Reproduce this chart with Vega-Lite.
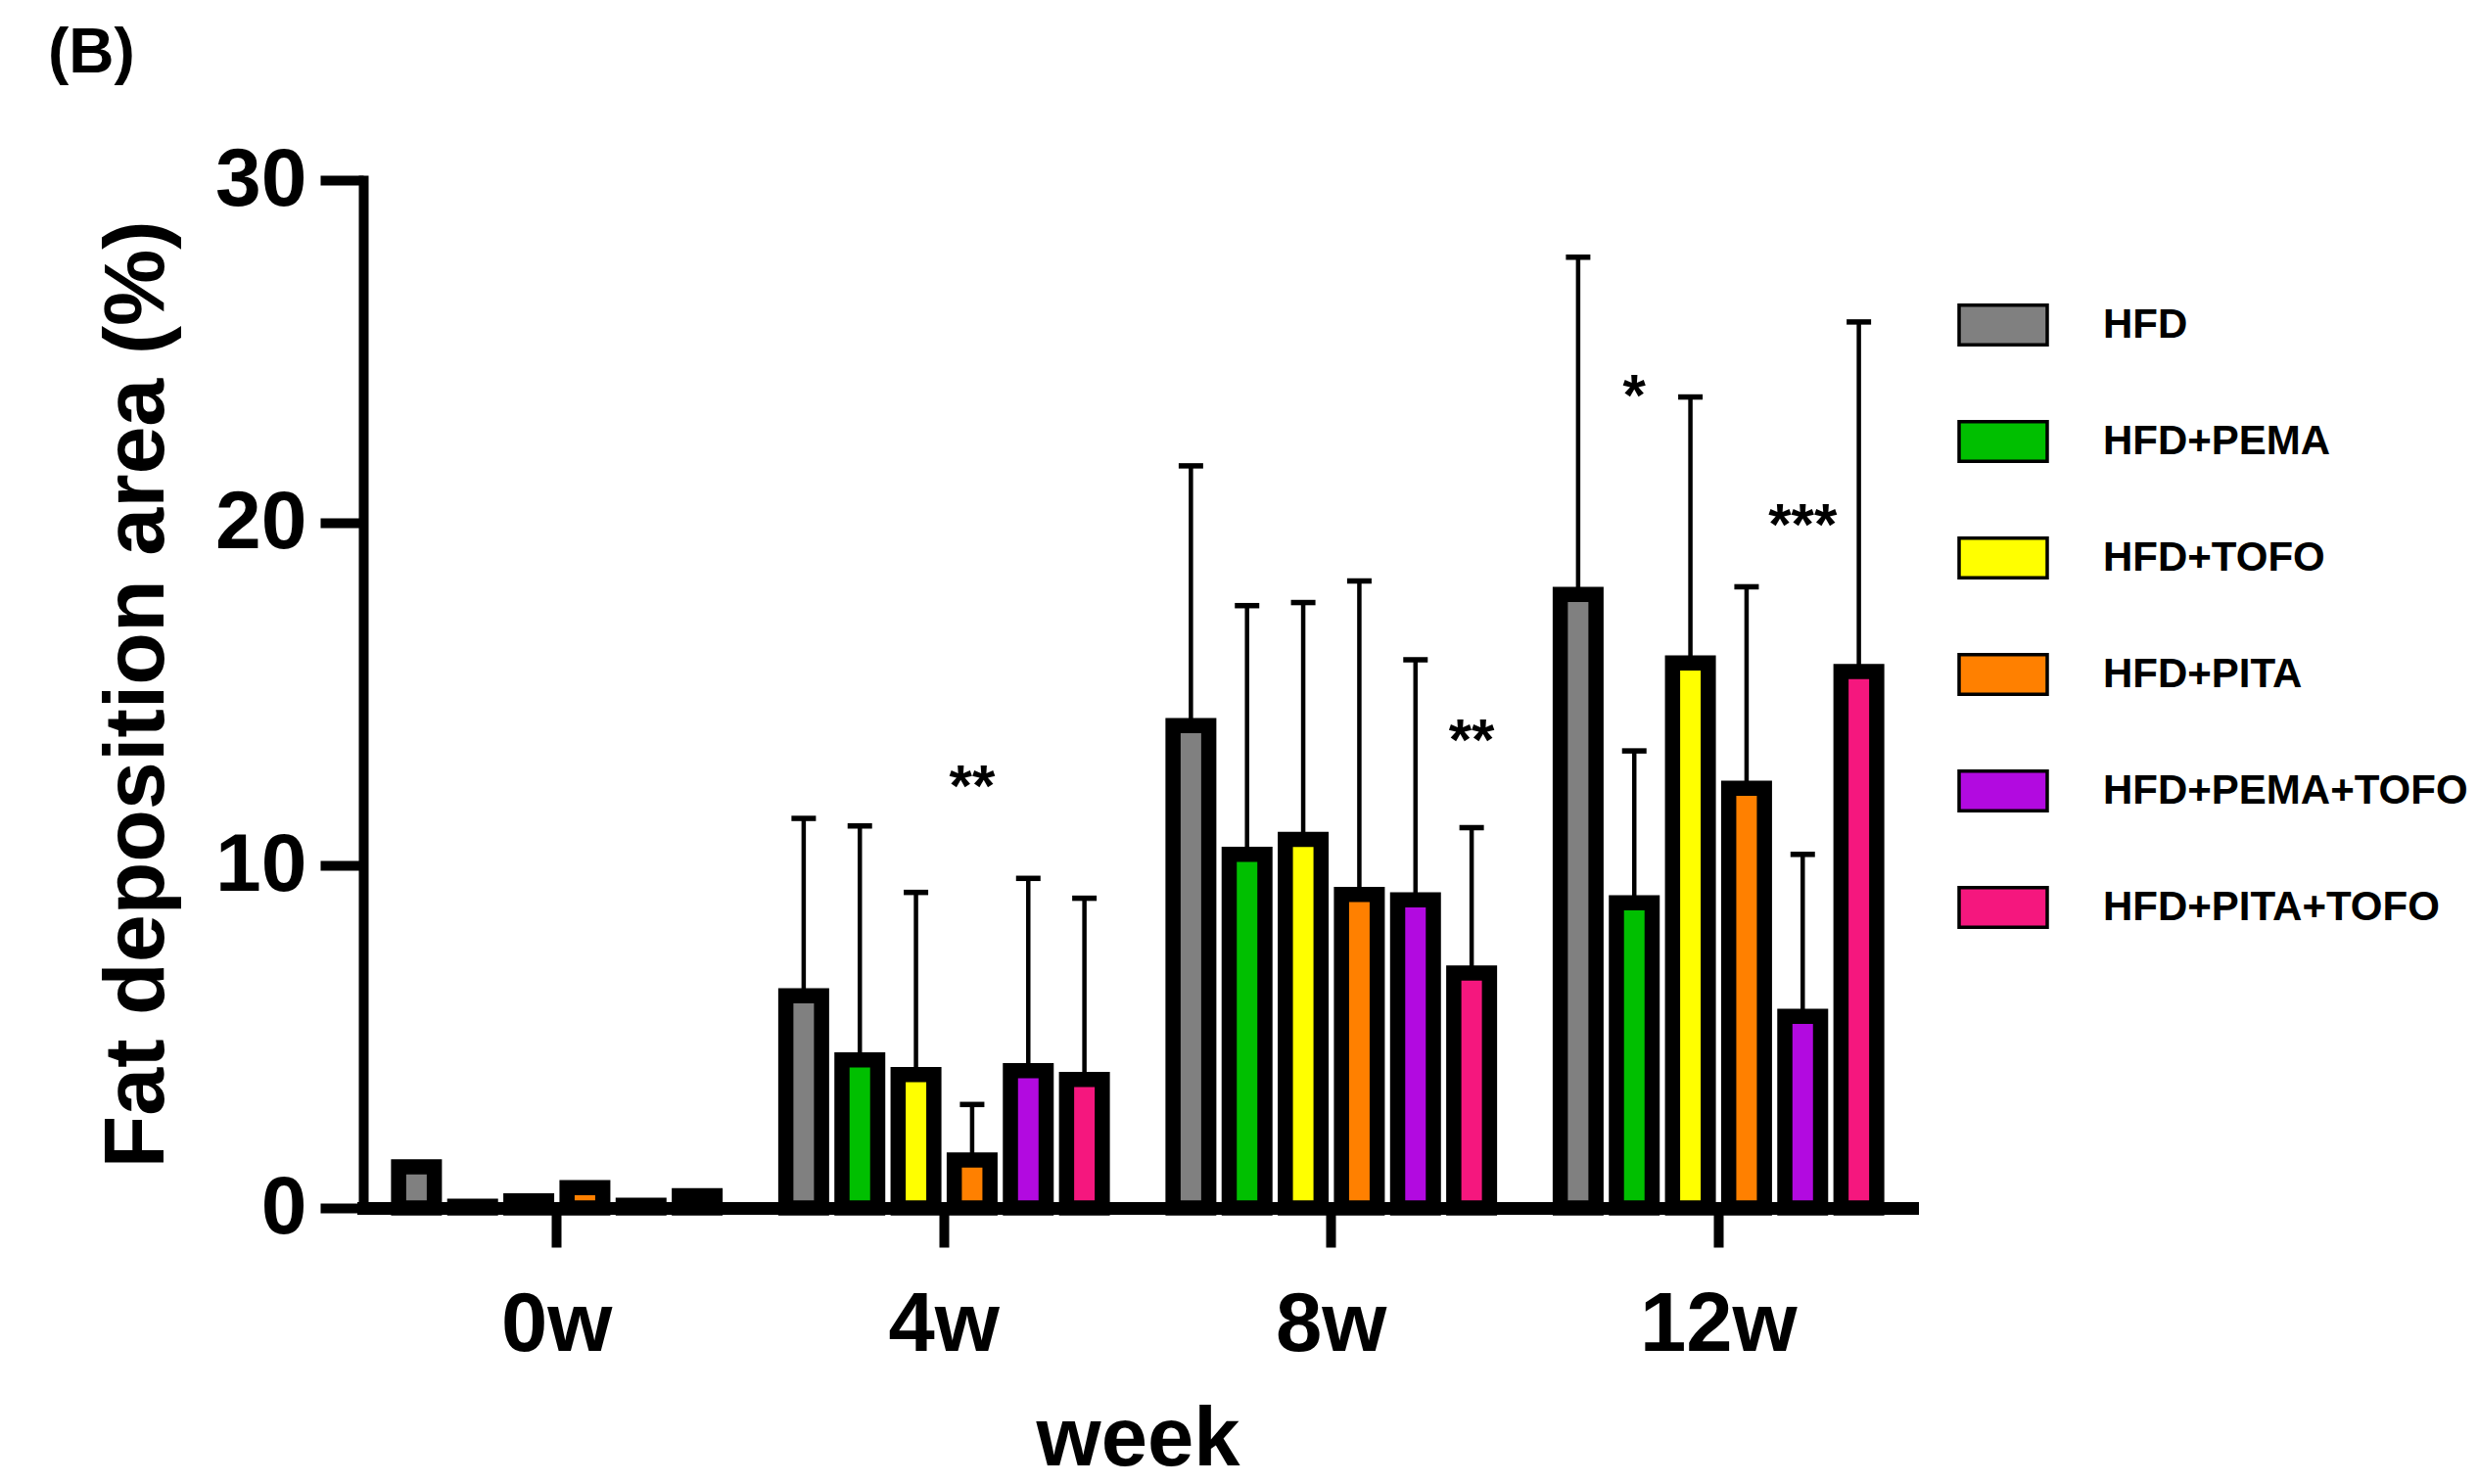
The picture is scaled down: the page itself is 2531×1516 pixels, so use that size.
{
  "$schema": "https://vega.github.io/schema/vega-lite/v6.json",
  "width": 1582,
  "height": 1050,
  "autosize": {"type": "none"},
  "padding": {"left": 371, "top": 184, "right": 578, "bottom": 282},
  "background": "white",
  "title": {"text": "(B)", "anchor": "start", "frame": "group", "font": "Liberation Sans", "fontSize": 64, "fontWeight": "bold", "color": "black", "dx": -322, "offset": 4, "baseline": "alphabetic"},
  "datasets": {
    "bars": [
      {"week": "0w", "group": "HFD", "value": 1.2, "err": null},
      {"week": "0w", "group": "HFD+PEMA", "value": 0.05, "err": null},
      {"week": "0w", "group": "HFD+TOFO", "value": 0.21, "err": null},
      {"week": "0w", "group": "HFD+PITA", "value": 0.59, "err": null},
      {"week": "0w", "group": "HFD+PEMA+TOFO", "value": 0.08, "err": null},
      {"week": "0w", "group": "HFD+PITA+TOFO", "value": 0.36, "err": null},
      {"week": "4w", "group": "HFD", "value": 6.19, "err": 11.37},
      {"week": "4w", "group": "HFD+PEMA", "value": 4.32, "err": 11.15},
      {"week": "4w", "group": "HFD+TOFO", "value": 3.89, "err": 9.21},
      {"week": "4w", "group": "HFD+PITA", "value": 1.4, "err": 3.02},
      {"week": "4w", "group": "HFD+PEMA+TOFO", "value": 4.01, "err": 9.62},
      {"week": "4w", "group": "HFD+PITA+TOFO", "value": 3.75, "err": 9.04},
      {"week": "8w", "group": "HFD", "value": 14.08, "err": 21.66},
      {"week": "8w", "group": "HFD+PEMA", "value": 10.32, "err": 17.58},
      {"week": "8w", "group": "HFD+TOFO", "value": 10.76, "err": 17.67},
      {"week": "8w", "group": "HFD+PITA", "value": 9.15, "err": 18.3},
      {"week": "8w", "group": "HFD+PEMA+TOFO", "value": 8.99, "err": 16.0},
      {"week": "8w", "group": "HFD+PITA+TOFO", "value": 6.86, "err": 11.1},
      {"week": "12w", "group": "HFD", "value": 17.91, "err": 27.75},
      {"week": "12w", "group": "HFD+PEMA", "value": 8.91, "err": 13.34},
      {"week": "12w", "group": "HFD+TOFO", "value": 15.91, "err": 23.67},
      {"week": "12w", "group": "HFD+PITA", "value": 12.25, "err": 18.13},
      {"week": "12w", "group": "HFD+PEMA+TOFO", "value": 5.59, "err": 10.32},
      {"week": "12w", "group": "HFD+PITA+TOFO", "value": 15.66, "err": 25.86}
    ],
    "stars": [
      {"week": "4w", "group": "HFD+PITA", "sig": "**", "pos": 12.55},
      {"week": "8w", "group": "HFD+PITA+TOFO", "sig": "**", "pos": 13.9},
      {"week": "12w", "group": "HFD+PEMA", "sig": "*", "pos": 23.95},
      {"week": "12w", "group": "HFD+PEMA+TOFO", "sig": "***", "pos": 20.18}
    ]
  },
  "config": {
    "view": {"stroke": null},
    "font": "Liberation Sans",
    "axis": {"zindex": 1, "domainColor": "black", "tickColor": "black", "labelColor": "black", "titleColor": "black", "labelFont": "Liberation Sans", "titleFont": "Liberation Sans", "labelFontWeight": "bold", "titleFontWeight": "bold", "grid": false, "domainCap": "square"}
  },
  "encoding": {
    "x": {"field": "week", "type": "nominal", "sort": ["0w", "4w", "8w", "12w"],
      "scale": {"paddingInner": 0.13, "paddingOuter": 0.065},
      "axis": {"title": "week", "labelAngle": 0, "labelFontSize": 85, "titleFontSize": 85, "tickSize": 40, "tickWidth": 10, "domainWidth": 13, "labelPadding": 38, "titlePadding": 33}},
    "xOffset": {"field": "group", "type": "nominal", "sort": ["HFD", "HFD+PEMA", "HFD+TOFO", "HFD+PITA", "HFD+PEMA+TOFO", "HFD+PITA+TOFO"],
      "scale": {"paddingInner": 0, "paddingOuter": 0}}
  },
  "layer": [
    {
      "data": {"name": "bars"},
      "transform": [{"filter": "isValid(datum.err)"}],
      "mark": {"type": "rule", "color": "black", "strokeWidth": 4.5},
      "encoding": {
        "y": {"field": "value", "type": "quantitative"},
        "y2": {"field": "err"}
      }
    },
    {
      "data": {"name": "bars"},
      "transform": [{"filter": "isValid(datum.err)"}],
      "mark": {"type": "tick", "color": "black", "size": 25, "thickness": 5.5, "orient": "horizontal", "opacity": 1},
      "encoding": {
        "y": {"field": "err", "type": "quantitative"}
      }
    },
    {
      "data": {"name": "bars"},
      "mark": {"type": "bar", "width": 36.5, "stroke": "black", "strokeWidth": 15.5, "strokeJoin": "miter", "opacity": 1, "fillOpacity": 1},
      "encoding": {
        "y": {"field": "value", "type": "quantitative", "stack": null,
          "scale": {"domain": [0, 30], "nice": false},
          "axis": {"title": "Fat deposition area (%)", "values": [0, 10, 20, 30], "labelFontSize": 84, "titleFontSize": 88, "tickSize": 44, "tickWidth": 10, "domainWidth": 10, "labelPadding": 14, "titlePadding": 35}},
        "color": {"field": "group", "type": "nominal",
          "scale": {"domain": ["HFD", "HFD+PEMA", "HFD+TOFO", "HFD+PITA", "HFD+PEMA+TOFO", "HFD+PITA+TOFO"],
            "range": ["#808080", "#00BF00", "#FFFF00", "#FF8000", "#B20AE0", "#F5177E"]},
          "legend": {"orient": "none", "legendX": 1628, "legendY": 101, "title": null, "padding": 0,
            "symbolType": "M-1,-0.45H1V0.45H-1Z", "symbolSize": 8100, "symbolStrokeColor": "black", "symbolStrokeWidth": 3.5, "symbolOpacity": 1,
            "labelFont": "Liberation Sans", "labelFontSize": 42, "labelFontWeight": "bold", "labelColor": "black", "labelOffset": 55, "labelLimit": 700, "rowPadding": 44}}
      }
    },
    {
      "data": {"name": "stars"},
      "mark": {"type": "text", "font": "Liberation Sans", "fontSize": 60, "fontWeight": "bold", "color": "black", "baseline": "alphabetic", "align": "center", "dy": 28},
      "encoding": {
        "y": {"field": "pos", "type": "quantitative"},
        "text": {"field": "sig"}
      }
    }
  ]
}
